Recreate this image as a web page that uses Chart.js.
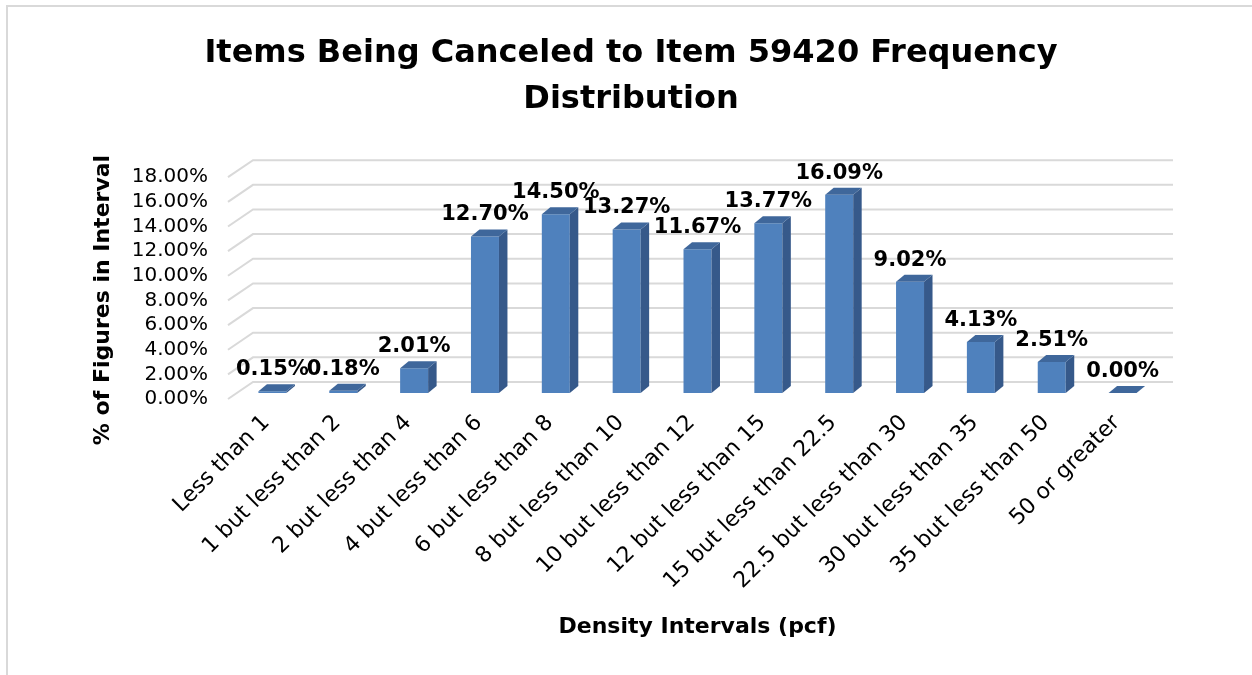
<!DOCTYPE html>
<html>
<head>
<meta charset="utf-8">
<script src="https://cdn.jsdelivr.net/npm/chart.js@4/dist/chart.umd.min.js"></script>
<style>
  html, body { margin: 0; padding: 0; background: #ffffff; }
  #wrap { width: 1252px; height: 675px; position: relative; }
  canvas { display: block; }
</style>
</head>
<body>
<div id="wrap"><canvas id="c" width="1252" height="675"></canvas></div>
<script>
// ---- data ----
const categories = [
  'Less than 1', '1 but less than 2', '2 but less than 4', '4 but less than 6',
  '6 but less than 8', '8 but less than 10', '10 but less than 12', '12 but less than 15',
  '15 but less than 22.5', '22.5 but less than 30', '30 but less than 35',
  '35 but less than 50', '50 or greater'
];
const percentValues = [0.15, 0.18, 2.01, 12.70, 14.50, 13.27, 11.67, 13.77, 16.09, 9.02, 4.13, 2.51, 0.00];
const yTickValues = [0, 2, 4, 6, 8, 10, 12, 14, 16, 18];
const titleLines = ['Items Being Canceled to Item 59420 Frequency', 'Distribution'];
const xAxisTitle = 'Density Intervals (pcf)';
const yAxisTitle = '% of Figures in Interval';

// ---- style ----
const FONT = "'DejaVu Sans', sans-serif";
const FRONT = '#4F81BD', SIDE = '#36598A', TOP = '#3F679B';
const GRID = '#D9D9D9';
const BAR_D = { dx: 8.5, dy: -7 };
const WALL = { frontDx: -9, frontDy: 6, backDx: 16, backDy: -11, rightExt: 15 };

const framePlugin = {
  id: 'frame',
  beforeDraw(chart) {
    const ctx = chart.ctx;
    ctx.save();
    ctx.fillStyle = '#ffffff';
    ctx.fillRect(0, 0, chart.width, chart.height);
    ctx.strokeStyle = '#D9D9D9';
    ctx.lineWidth = 2;
    ctx.beginPath();
    ctx.moveTo(7, chart.height);
    ctx.lineTo(7, 6);
    ctx.lineTo(chart.width, 6);
    ctx.stroke();
    ctx.restore();
  }
};

const wallPlugin = {
  id: 'wall3d',
  beforeDatasetsDraw(chart) {
    const ctx = chart.ctx, y = chart.scales.y, area = chart.chartArea;
    ctx.save();
    ctx.strokeStyle = GRID;
    ctx.lineWidth = 2;
    yTickValues.forEach(v => {
      const p = y.getPixelForValue(v);
      ctx.beginPath();
      ctx.moveTo(area.left + WALL.frontDx, p + WALL.frontDy);
      ctx.lineTo(area.left + WALL.backDx, p + WALL.backDy);
      ctx.lineTo(area.right + WALL.rightExt, p + WALL.backDy);
      ctx.stroke();
    });
    ctx.restore();
  }
};

const bar3dPlugin = {
  id: 'bar3d',
  afterDatasetsDraw(chart) {
    const ctx = chart.ctx;
    const meta = chart.getDatasetMeta(0);
    ctx.save();
    meta.data.forEach((bar, i) => {
      const { x, y, width, base } = bar.getProps(['x', 'y', 'width', 'base'], true);
      const l = x - width / 2, r = x + width / 2;
      // side face
      ctx.fillStyle = SIDE;
      ctx.beginPath();
      ctx.moveTo(r, y);
      ctx.lineTo(r + BAR_D.dx, y + BAR_D.dy);
      ctx.lineTo(r + BAR_D.dx, base + BAR_D.dy);
      ctx.lineTo(r, base);
      ctx.closePath();
      ctx.fill();
      // top face
      ctx.fillStyle = TOP;
      ctx.beginPath();
      ctx.moveTo(l, y);
      ctx.lineTo(l + BAR_D.dx, y + BAR_D.dy);
      ctx.lineTo(r + BAR_D.dx, y + BAR_D.dy);
      ctx.lineTo(r, y);
      ctx.closePath();
      ctx.fill();
      // value label
      ctx.fillStyle = '#000000';
      ctx.font = "bold 21px " + FONT;
      ctx.textAlign = 'center';
      ctx.textBaseline = 'alphabetic';
      ctx.fillText(percentValues[i].toFixed(2) + '%', x, y - 16);
    });
    // y-axis title
    ctx.translate(103, 300);
    ctx.rotate(-Math.PI / 2);
    ctx.font = "bold 22px " + FONT;
    ctx.fillStyle = '#000000';
    ctx.textAlign = 'center';
    ctx.textBaseline = 'middle';
    ctx.fillText(yAxisTitle, 0, 0);
    ctx.restore();
  }
};

new Chart(document.getElementById('c'), {
  type: 'bar',
  data: {
    labels: categories,
    datasets: [{
      data: percentValues,
      backgroundColor: FRONT,
      borderWidth: 0,
      barPercentage: 0.395,
      categoryPercentage: 1.0
    }]
  },
  options: {
    responsive: false,
    animation: false,
    devicePixelRatio: 1,
    layout: { padding: { left: 10, right: 0, top: 0, bottom: 0 } },
    plugins: {
      legend: { display: false },
      tooltip: { enabled: false },
      title: {
        display: true,
        text: titleLines,
        color: '#000000',
        font: { family: FONT, size: 32, weight: 'bold', lineHeight: 1.44 },
        padding: { top: 31, bottom: 48 }
      }
    },
    scales: {
      x: {
        grid: { display: false, drawTicks: false },
        border: { display: false },
        ticks: {
          color: '#000000',
          font: { family: FONT, size: 22 },
          minRotation: 45, maxRotation: 45,
          autoSkip: false,
          padding: 17,
          labelOffset: -6
        },
        title: {
          display: true,
          text: xAxisTitle,
          color: '#000000',
          font: { family: FONT, size: 22, weight: 'bold' },
          padding: { top: 0, bottom: 35 }
        },
        afterFit(scale) { scale.height = 282; }
      },
      y: {
        min: 0, max: 18,
        grid: { display: false, drawTicks: false },
        border: { display: false },
        afterBuildTicks(scale) { scale.ticks = yTickValues.map(v => ({ value: v })); },
        ticks: {
          autoSkip: false,
          color: '#000000',
          font: { family: FONT, size: 20 },
          padding: 29,
          labelOffset: 6,
          callback: v => Number(v).toFixed(2) + '%'
        },
        afterFit(scale) { scale.width = 227; }
      },
      yRightSpace: {
        position: 'right',
        display: true,
        grid: { display: false, drawTicks: false },
        border: { display: false },
        ticks: { display: false },
        afterFit(scale) { scale.width = 94; }
      }
    }
  },
  plugins: [framePlugin, wallPlugin, bar3dPlugin]
});
</script>
</body>
</html>
